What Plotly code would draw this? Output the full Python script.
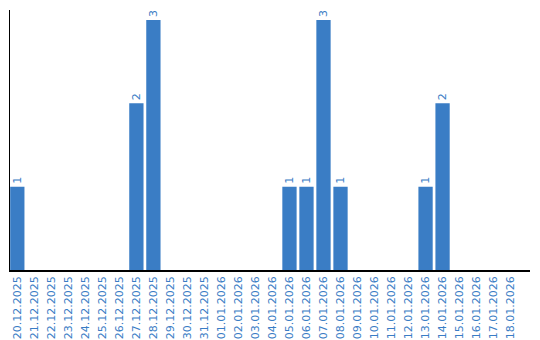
import plotly.graph_objects as go

dates = ["20.12.2025","21.12.2025","22.12.2025","23.12.2025","24.12.2025","25.12.2025",
         "26.12.2025","27.12.2025","28.12.2025","29.12.2025","30.12.2025","31.12.2025",
         "01.01.2026","02.01.2026","03.01.2026","04.01.2026","05.01.2026","06.01.2026",
         "07.01.2026","08.01.2026","09.01.2026","10.01.2026","11.01.2026","12.01.2026",
         "13.01.2026","14.01.2026","15.01.2026","16.01.2026","17.01.2026","18.01.2026"]
counts = [1,0,0,0,0,0,0,2,3,0,0,0,0,0,0,0,1,1,3,1,0,0,0,0,1,2,0,0,0,0]
labels = [str(c) if c > 0 else "" for c in counts]

blue = "#3a7dc5"

fig = go.Figure(go.Bar(
    x=dates, y=counts, text=labels, textposition="outside", textangle=-90,
    textfont=dict(family="DejaVu Sans", size=11, color=blue),
    marker=dict(color=blue, line=dict(width=0)), cliponaxis=False,
))
fig.update_layout(
    width=540, height=340, margin=dict(l=10, r=10, t=10, b=70),
    paper_bgcolor="white", plot_bgcolor="white", bargap=0.16, showlegend=False,
    font=dict(family="DejaVu Sans", size=11, color=blue),
)
fig.update_xaxes(type="category", range=[-0.43, 30.14], tickangle=-90, showline=True,
                 linecolor="black", linewidth=1.5, showgrid=False, ticks="", automargin=False,
                 tickfont=dict(family="DejaVu Sans", size=11, color=blue))
fig.update_yaxes(range=[0, 3.12], showline=True, linecolor="black", linewidth=1,
                 showgrid=False, showticklabels=False, ticks="", zeroline=False, automargin=False)
fig.write_html("out.html")
